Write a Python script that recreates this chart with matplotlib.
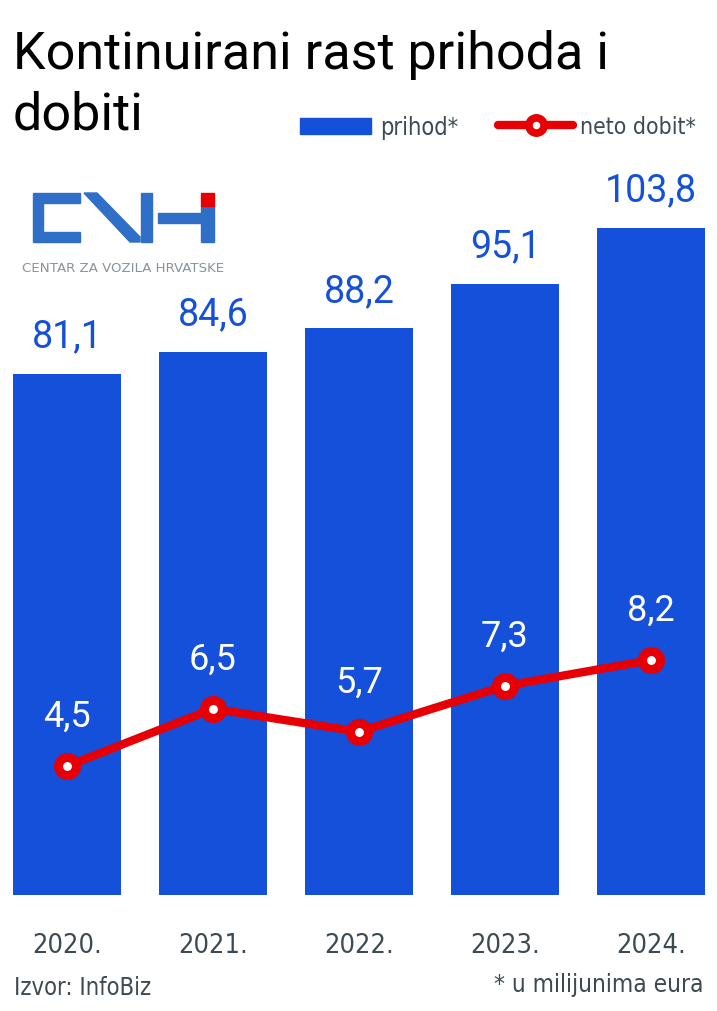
import matplotlib.pyplot as plt
from matplotlib.patches import Polygon, Rectangle
from matplotlib.lines import Line2D

# data
years = ["2020.", "2021.", "2022.", "2023.", "2024."]
revenue = [81.1, 84.6, 88.2, 95.1, 103.8]
net_profit = [4.5, 6.5, 5.7, 7.3, 8.2]
revenue_labels = ["81,1", "84,6", "88,2", "95,1", "103,8"]
profit_labels = ["4,5", "6,5", "5,7", "7,3", "8,2"]

BLUE = "#1450d9"
RED = "#e60005"
GREY = "#3d4a52"
NARROW = dict(family="DejaVu Sans", fontstretch="condensed")

W, H = 717, 1012
fig = plt.figure(figsize=(W / 100, H / 100), dpi=100)


def fx(x):
    return x / W


def fy(y):
    return 1 - y / H


# main axes: bottom at y=896 px, top at 150 px
ax = fig.add_axes([0, fy(896), 1, (896 - 150) / H])
x = list(range(len(years)))
ax.bar(x, revenue, width=0.733, color=BLUE, zorder=1)
ax.set_xlim(-67 / 146, (717 - 67) / 146)
ax.set_ylim(0, 746 / 6.424)
for xi, v, lab in zip(x, revenue, revenue_labels):
    ax.annotate(lab, (xi, v), xytext=(0, 14), textcoords="offset points",
                ha="center", va="bottom", fontsize=27, color=BLUE,
                family="Roboto")

ax.set_xticks(x)
ax.set_xticklabels(years, fontsize=19.5, color=GREY, **NARROW)
ax.tick_params(axis="x", length=0, pad=27)
ax.set_yticks([])
for s in ax.spines.values():
    s.set_visible(False)

ax2 = ax.twinx()
ax2.set_ylim(0, 746 / 28.65)
ax2.plot(x, net_profit, color=RED, linewidth=6, marker="o", markersize=13,
         markerfacecolor="white", markeredgecolor=RED, markeredgewidth=6.5,
         solid_capstyle="round", zorder=3)
for xi, v, lab in zip(x, net_profit, profit_labels):
    ax2.annotate(lab, (xi, v), xytext=(0, 23), textcoords="offset points",
                 ha="center", va="bottom", fontsize=26, color="white",
                 family="Roboto")
ax2.set_yticks([])
for s in ax2.spines.values():
    s.set_visible(False)

# title (two lines)
fig.text(fx(13), fy(69), "Kontinuirani rast prihoda i", ha="left",
         va="baseline", fontsize=37.5, family="Roboto", color="black")
fig.text(fx(13), fy(130), "dobiti", ha="left",
         va="baseline", fontsize=37.5, family="Roboto", color="black")

# legend
fig.patches.append(Rectangle((fx(300), fy(135)), fx(371) - fx(300),
                             fy(119) - fy(135), color=BLUE,
                             transform=fig.transFigure, figure=fig))
fig.text(fx(380), fy(128), "prihod*", ha="left", va="center", fontsize=17,
         color=GREY, **NARROW)
fig.lines.append(Line2D([fx(498), fx(573)], [fy(126), fy(126)], color=RED,
                        linewidth=6, solid_capstyle="round",
                        transform=fig.transFigure))
fig.lines.append(Line2D([fx(536)], [fy(126)], linestyle="none", marker="o",
                        markersize=11, markerfacecolor="white",
                        markeredgecolor=RED, markeredgewidth=5.5,
                        transform=fig.transFigure))
fig.text(fx(580), fy(128), "neto dobit*", ha="left", va="center",
         fontsize=16.5, color=GREY, **NARROW)

# logo (CVH)
logo_blue = "#2f6fc7"
shapes = [
    # C
    [(33, 194), (80, 194), (80, 204), (43, 204), (43, 233), (80, 233),
     (80, 243), (33, 243)],
    # V diagonal
    [(84, 194), (97, 194), (140, 238), (140, 243), (130, 243)],
    # V vertical
    [(141, 194), (152, 194), (152, 243), (141, 243)],
    # H bar
    [(158, 214), (202, 214), (202, 224), (158, 224)],
    # H vertical
    [(201, 207), (214, 207), (214, 243), (201, 243)],
]
for pts in shapes:
    fig.patches.append(Polygon([(fx(a), fy(b)) for a, b in pts], closed=True,
                               color=logo_blue, transform=fig.transFigure,
                               figure=fig))
fig.patches.append(Polygon([(fx(a), fy(b)) for a, b in
                            [(201, 194), (214, 194), (214, 207), (201, 207)]],
                           closed=True, color=RED, transform=fig.transFigure,
                           figure=fig))
fig.text(fx(22), fy(269), "CENTAR ZA VOZILA HRVATSKE", ha="left",
         va="center", fontsize=9.6, color="#8a9299", family="DejaVu Sans")

# footer
fig.text(fx(14), fy(988), "Izvor: InfoBiz", ha="left", va="center",
         fontsize=17, color=GREY, **NARROW)
fig.text(fx(703), fy(985), "* u milijunima eura", ha="right", va="center",
         fontsize=17.5, color=GREY, **NARROW)

fig.savefig("out.png", dpi=100)
